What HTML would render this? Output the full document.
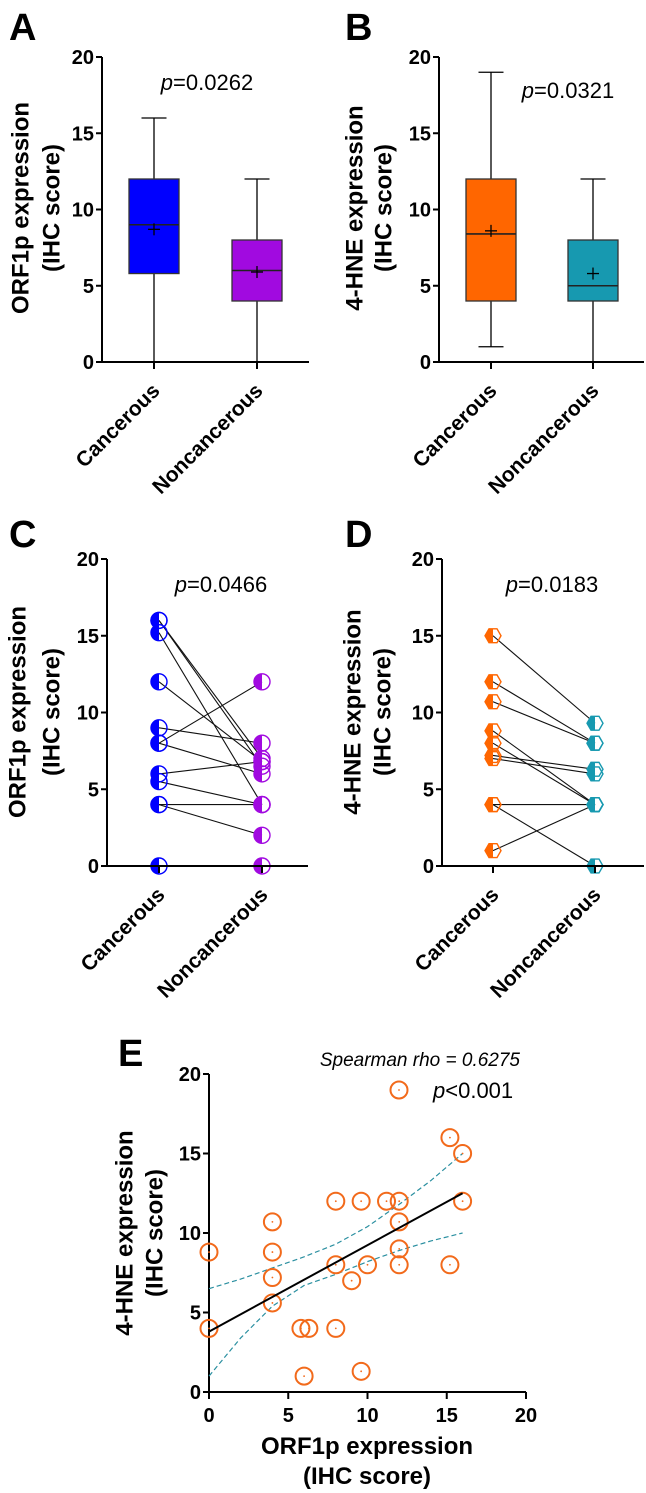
<!DOCTYPE html>
<html><head><meta charset="utf-8"><style>
html,body{margin:0;padding:0;background:#fff}
svg{display:block;font-family:"Liberation Sans",Arial,sans-serif}
</style></head><body>
<svg id="fig" width="646" height="1493" viewBox="0 0 646 1493"></svg>
<script>
// ---- data ----
const yTicks=[0,5,10,15,20];
const categories=["Cancerous","Noncancerous"];
// panel A box stats [min,q1,median,q3,max,mean]
const boxA_cancer=[0,5.8,9,12,16,8.7];
const boxA_non=[0,4,6,8,12,5.9];
const boxB_cancer=[1,4,8.4,12,19,8.6];
const boxB_non=[0,4,5,8,12,5.8];
const pLabels=["0.0262","0.0321","0.0466","0.0183"];
// panel C pairs
const pairC_cancer=[16,16,15.2,12,9,8,8,6,5.5,4,4,0];
const pairC_non=[7,6.5,4,6.8,8,12,6,6.8,4,4,2,0];
// panel D pairs
const pairD_cancer=[15,12,10.7,8.8,8,7.2,7,4,4,1];
const pairD_non=[9.3,8,8,4,4,6.3,6,4,0,4];
// panel E scatter
const scatterX=[0,0,4,4,4,4,5.8,6.3,6,8,8,8,9.6,9.6,9,10,11.2,12,12,12,12,15.2,16,16,15.2];
const scatterY=[8.8,4,10.7,8.8,7.2,5.6,4,4,1,12,8,4,12,1.3,7,8,12,12,10.7,9,8,16,15,12,8];
const xTicksE=[0,5,10,15,20];
const fitX=[0,16];
const fitY=[3.8,12.5];
const ciX=[0,2,4,6,8,10,12,14,16];
const ciUpper=[6.5,7.1,7.8,8.5,9.3,10.4,11.8,13.3,15];
const ciLower=[1,3.4,5.4,6.7,7.4,8.2,8.9,9.5,10];

const NS="http://www.w3.org/2000/svg";
const svg=document.getElementById('fig');
function el(tag,attrs,parent,text){const e=document.createElementNS(NS,tag);for(const k in attrs)e.setAttribute(k,attrs[k]);if(text!==undefined)e.textContent=text;(parent||svg).appendChild(e);return e;}
function lin(d0,d1,r0,r1){return v=>r0+(v-d0)*(r1-r0)/(d1-d0);}

function yAxis(g,x,y,title1,title2,tx1,tx2,tcy){
  const ax=el('line',{x1:x,y1:y(20),x2:x,y2:y(0),stroke:'#000','stroke-width':2},g);
  
  
  yTicks.forEach(t=>{
    const tk=el('line',{x1:x-6,y1:y(t),x2:x,y2:y(t),stroke:'#000','stroke-width':2},g);
    
    
    const lb=el('text',{x:x-8,y:y(t)+7,'text-anchor':'end','font-size':20,'font-weight':'bold'},g,String(t));
    
    
  });
  const t1=el('text',{x:tx1,y:tcy,'text-anchor':'middle','font-size':24,'font-weight':'bold',transform:`rotate(-90 ${tx1} ${tcy})`,'dominant-baseline':'central'},g,title1);
  
  
  const t2=el('text',{x:tx2,y:tcy,'text-anchor':'middle','font-size':24,'font-weight':'bold',transform:`rotate(-90 ${tx2} ${tcy})`,'dominant-baseline':'central'},g,title2);
  
  
}
function xCatAxis(g,x0,x1,y0,cx){
  const ax=el('line',{x1:x0,y1:y0,x2:x1,y2:y0,stroke:'#000','stroke-width':2},g);
  
  
  categories.forEach((c,i)=>{
    const tk=el('line',{x1:cx[i],y1:y0,x2:cx[i],y2:y0+7,stroke:'#000','stroke-width':2},g);
    
    
    const ax_=cx[i]+7, ay=y0+30;
    const lb=el('text',{x:ax_,y:ay,'text-anchor':'end','font-size':21,'font-weight':'bold',transform:`rotate(-45 ${ax_} ${ay})`},g,c);
    
    
  });
}
function letter(g,x,y,t){const e=el('text',{x:x,y:y,'font-size':38,'font-weight':'bold'},g,t);}
function pval(g,x,y,v){const e=el('text',{x:x,y:y,'text-anchor':'middle','font-size':22},g);el('tspan',{'font-style':'italic'},e,'p');el('tspan',{},e,'='+v);}

function box(g,cx,y,s,color,name){
  const bg=el('g',{},g);
  
  
  const hw=25,cw=12.5;
  el('line',{x1:cx,y1:y(s[0]),x2:cx,y2:y(s[1]),stroke:'#000','stroke-width':1.3},bg);
  el('line',{x1:cx,y1:y(s[3]),x2:cx,y2:y(s[4]),stroke:'#000','stroke-width':1.3},bg);
  el('line',{x1:cx-cw,y1:y(s[4]),x2:cx+cw,y2:y(s[4]),stroke:'#000','stroke-width':1.3},bg);
  el('line',{x1:cx-cw,y1:y(s[0]),x2:cx+cw,y2:y(s[0]),stroke:'#000','stroke-width':1.3},bg);
  el('rect',{x:cx-hw,y:y(s[3]),width:2*hw,height:y(s[1])-y(s[3]),fill:color,stroke:'#333','stroke-width':1.3},bg);
  el('line',{x1:cx-hw,y1:y(s[2]),x2:cx+hw,y2:y(s[2]),stroke:'#222','stroke-width':1.6},bg);
  const m=y(s[5]);
  el('line',{x1:cx-6,y1:m,x2:cx+6,y2:m,stroke:'#000','stroke-width':1.3},bg);
  el('line',{x1:cx,y1:m-6,x2:cx,y2:m+6,stroke:'#000','stroke-width':1.3},bg);
}

// ---- Panel A ----
(function(){
  const g=el('g',{});  
  const y=lin(0,20,362,57); const cx=[154,257];
  letter(g,9,40,'A');
  yAxis(g,102,y,'ORF1p expression','(IHC score)',21,52,208);
  xCatAxis(g,102,309,362,cx);
  box(g,cx[0],y,boxA_cancer,'#0000ff','box-cancerous');
  box(g,cx[1],y,boxA_non,'#a10ae0','box-noncancerous');
  pval(g,207,90,pLabels[0]);
})();
// ---- Panel B ----
(function(){
  const g=el('g',{});  
  const y=lin(0,20,362,57); const cx=[491,593];
  letter(g,345,40,'B');
  yAxis(g,439,y,'4-HNE expression','(IHC score)',355,384,208);
  xCatAxis(g,439,644,362,cx);
  box(g,cx[0],y,boxB_cancer,'#ff6600','box-cancerous');
  box(g,cx[1],y,boxB_non,'#1799b0','box-noncancerous');
  pval(g,568,98,pLabels[1]);
})();

function halfCircle(g,cx,cy,r,color){
  el('path',{d:`M${cx},${cy-r} A${r},${r} 0 0 0 ${cx},${cy+r} Z`,fill:color},g);
  el('circle',{cx:cx,cy:cy,r:r,fill:'none',stroke:color,'stroke-width':1.4},g);
}
function halfHex(g,cx,cy,r,color){
  const pts=[];for(let k=0;k<6;k++){const a=Math.PI/3*k;pts.push([cx+r*Math.cos(a),cy+r*Math.sin(a)]);}
  el('path',{d:`M${cx},${cy-r*0.866} L${pts[4][0]},${pts[4][1]} L${pts[3][0]},${pts[3][1]} L${pts[2][0]},${pts[2][1]} L${cx},${cy+r*0.866} Z`,fill:color},g);
  el('polygon',{points:pts.map(p=>p.join(',')).join(' '),fill:'none',stroke:color,'stroke-width':1.4},g);
}
function pairs(g,cx,y,a,b,c1,c2,shape){
  const lg=el('g',{},g);  
  a.forEach((v,i)=>{el('line',{x1:cx[0],y1:y(v),x2:cx[1],y2:y(b[i]),stroke:'#111','stroke-width':1.1},lg);});
  a.forEach((v,i)=>{
    const m=el('g',{},g);
    
    
    shape(m,cx[0],y(v),8,c1);
  });
  b.forEach((v,i)=>{
    const m=el('g',{},g);
    
    
    shape(m,cx[1],y(v),8,c2);
  });
}
// ---- Panel C ----
(function(){
  const g=el('g',{});  
  const y=lin(0,20,866,559); const cx=[159,262];
  letter(g,9,547,'C');
  yAxis(g,107,y,'ORF1p expression','(IHC score)',18,52,712);
  pairs(g,cx,y,pairC_cancer,pairC_non,'#0000ff','#a10ae0',halfCircle);
  xCatAxis(g,107,308,866,cx);
  pval(g,221,592,pLabels[2]);
})();
// ---- Panel D ----
(function(){
  const g=el('g',{});  
  const y=lin(0,20,866,559); const cx=[493,595];
  letter(g,345,547,'D');
  yAxis(g,442,y,'4-HNE expression','(IHC score)',353,383,712);
  pairs(g,cx,y,pairD_cancer,pairD_non,'#ff6600','#1799b0',halfHex);
  xCatAxis(g,442,644,866,cx);
  pval(g,552,592,pLabels[3]);
})();
// ---- Panel E ----
(function(){
  const g=el('g',{});  
  const y=lin(0,20,1392,1074); const x=lin(0,20,209,526);
  letter(g,118,1066,'E');
  yAxis(g,209,y,'4-HNE expression','(IHC score)',125,155,1233);
  const ax=el('line',{x1:x(0),y1:y(0),x2:x(20),y2:y(0),stroke:'#000','stroke-width':2},g);
  
  
  xTicksE.forEach(t=>{
    const tk=el('line',{x1:x(t),y1:y(0),x2:x(t),y2:y(0)+7,stroke:'#000','stroke-width':2},g);
    
    
    const lb=el('text',{x:x(t),y:y(0)+30,'text-anchor':'middle','font-size':20,'font-weight':'bold'},g,String(t));
    
    
  });
  const xt1=el('text',{x:367,y:1454,'text-anchor':'middle','font-size':24,'font-weight':'bold'},g,'ORF1p expression');
  
  
  const xt2=el('text',{x:367,y:1484,'text-anchor':'middle','font-size':24,'font-weight':'bold'},g,'(IHC score)');
  
  
  const up=el('path',{d:'M'+ciX.map((v,i)=>x(v)+','+y(ciUpper[i])).join(' L'),fill:'none',stroke:'#2a8fa0','stroke-width':1.2,'stroke-dasharray':'5,3'},g);
  
  
  const lo=el('path',{d:'M'+ciX.map((v,i)=>x(v)+','+y(ciLower[i])).join(' L'),fill:'none',stroke:'#2a8fa0','stroke-width':1.2,'stroke-dasharray':'5,3'},g);
  
  
  scatterX.forEach((v,i)=>{
    const c=el('circle',{cx:x(v),cy:y(scatterY[i]),r:8.5,fill:'none',stroke:'#f26a1b','stroke-width':2},g);
    
    
    el('circle',{cx:x(v),cy:y(scatterY[i]),r:0.9,fill:'#f26a1b'},g);
  });
  const fl=el('line',{x1:x(fitX[0]),y1:y(fitY[0]),x2:x(fitX[1]),y2:y(fitY[1]),stroke:'#000','stroke-width':2},g);
  
  
  const sp=el('text',{x:520,y:1066,'text-anchor':'end','font-size':19,'font-style':'italic'},g,'Spearman rho = 0.6275');
  
  
  const lm=el('circle',{cx:399,cy:1090,r:8.5,fill:'none',stroke:'#f26a1b','stroke-width':2},g);
  
  
  el('circle',{cx:399,cy:1090,r:0.9,fill:'#f26a1b'},g);
  const pt=el('text',{x:433,y:1098,'font-size':22},g);
  
  
  el('tspan',{'font-style':'italic'},pt,'p');
  el('tspan',{},pt,'<0.001');
})();
</script>
</body></html>
